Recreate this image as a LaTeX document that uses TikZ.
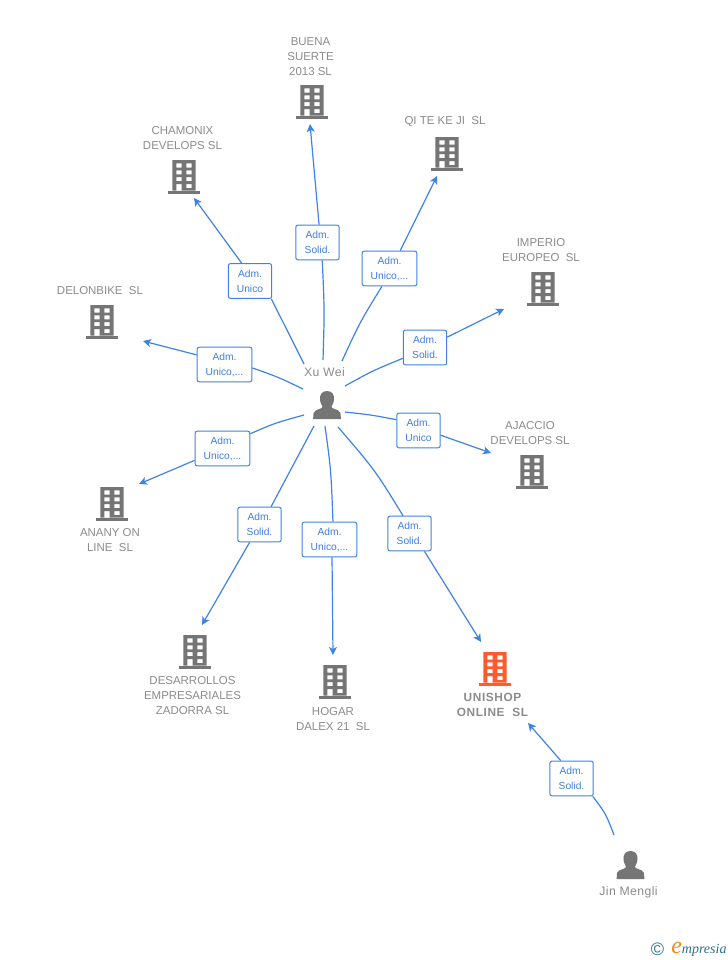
\documentclass[tikz,border=0pt]{standalone}
\usepackage{fontspec}
\setmainfont{Liberation Sans}
\newfontfamily\logofont{Liberation Serif}
\usetikzlibrary{arrows.meta}
\definecolor{edgeblue}{HTML}{3F83E4}
\definecolor{lbltext}{HTML}{3F7FE0}
\definecolor{icongray}{HTML}{757575}
\definecolor{txtgray}{HTML}{8C8C8C}
\definecolor{hilite}{HTML}{FF5A2B}
\definecolor{logoteal}{HTML}{2F6F8F}
\definecolor{logoorange}{HTML}{F08A1D}
\newcommand{\bldg}[3]{%
  \begin{scope}[shift={(#1,#2)}]
    \fill[#3,even odd rule]
      (-11.7,0) rectangle (11.7,30.5)
      (-7.7,3.3) rectangle (-2.3,7.5) (2.3,3.3) rectangle (7.7,7.5)
      (-7.7,10.3) rectangle (-2.3,14.3) (2.3,10.3) rectangle (7.7,14.3)
      (-7.7,17) rectangle (-2.3,21) (2.3,17) rectangle (7.7,21)
      (-7.7,24) rectangle (-2.3,30.5) (2.3,24) rectangle (7.7,28);
    \fill[#3] (-16,30.5) rectangle (16,33.5);
  \end{scope}}
\newcommand{\persona}[2]{%
  \begin{scope}[shift={(#1,#2)}]
    \fill[icongray] (0,0) .. controls (-5.5,0) and (-7.2,4) .. (-7,8)
      .. controls (-6.9,11.5) and (-5.5,14) .. (-4.5,15.5)
      .. controls (-4.5,17.5) and (-8,18) .. (-11,19.3)
      .. controls (-13.5,20.3) and (-13.8,22) .. (-13.8,28)
      -- (13.8,28) .. controls (13.8,22) and (13.5,20.3) .. (11,19.3)
      .. controls (8,18) and (4.5,17.5) .. (4.5,15.5)
      .. controls (5.5,14) and (6.9,11.5) .. (7,8)
      .. controls (7.2,4) and (5.5,0) .. (0,0) -- cycle;
  \end{scope}}
\tikzset{
  x=0.75pt,y=-0.75pt,
  lblbox/.style={draw=edgeblue,fill=white,rounded corners=1.5pt,line width=0.75pt,
    text=lbltext,font=\fontsize{7.7}{11.25}\selectfont,align=center,inner sep=0pt,
    minimum height=26pt},
  narrowbox/.style={lblbox,minimum width=32.5pt},
  widebox/.style={lblbox,minimum width=41pt},
  co/.style={text=txtgray,font=\fontsize{8.6}{11.25}\selectfont,align=center,inner sep=0pt},
  link/.style={draw=edgeblue,line width=0.9pt},
  arrowlink/.style={link,-{Stealth[length=6pt,width=6pt,inset=1.6pt]}},
}
\begin{document}
\begin{tikzpicture}
\useasboundingbox (0,0) rectangle (728,960);
\fill[white] (0,0) rectangle (728,960);
% buildings
\bldg{312}{85}{icongray}
\bldg{184}{160}{icongray}
\bldg{447}{137}{icongray}
\bldg{543}{272}{icongray}
\bldg{102}{305}{icongray}
\bldg{532}{455}{icongray}
\bldg{112}{487}{icongray}
\bldg{195}{635}{icongray}
\bldg{335}{665}{icongray}
\bldg{495}{652}{hilite}
% people
\persona{327}{391}
\persona{630.5}{851}
% names
\node[co] (buena) at (310.5,56.5) {BUENA\\SUERTE\\2013 SL};
\node[co] (chamonix) at (182.5,138) {CHAMONIX\\DEVELOPS SL};
\node[co] (qite) at (445,122) {QI TE KE JI~ SL};
\node[co] (imperio) at (541,250) {IMPERIO\\EUROPEO~ SL};
\node[co] (delonbike) at (100,291) {DELONBIKE~ SL};
\node[co] (ajaccio) at (530,433) {AJACCIO\\DEVELOPS SL};
\node[co] (anany) at (110,540) {ANANY ON\\LINE~ SL};
\node[co] (desarrollos) at (192.5,696) {DESARROLLOS\\EMPRESARIALES\\ZADORRA SL};
\node[co] (hogar) at (333,719) {HOGAR\\DALEX 21~ SL};
\node[co,font=\fontsize{8.9}{11.25}\selectfont\bfseries\addfontfeatures{LetterSpace=5}] (unishop) at (492.5,704.5) {UNISHOP\\ONLINE~ SL};
\node[co,font=\fontsize{9.2}{11.25}\selectfont\addfontfeatures{LetterSpace=3}] (xuwei) at (324.5,372) {Xu Wei};
\node[co,font=\fontsize{9.2}{11.25}\selectfont\addfontfeatures{LetterSpace=3}] (jin) at (628.5,892) {Jin Mengli};
% connector labels
\node[narrowbox] (lbuena) at (317.5,242.5) {Adm.\\Solid.};
\node[narrowbox] (lchamonix) at (250,281) {Adm.\\Unico};
\node[widebox] (lqite) at (389.5,268.5) {Adm.\\Unico,...};
\node[narrowbox] (limperio) at (425,347.5) {Adm.\\Solid.};
\node[widebox] (ldelon) at (224.5,364.5) {Adm.\\Unico,...};
\node[narrowbox] (lajaccio) at (418.5,430.5) {Adm.\\Unico};
\node[widebox] (lanany) at (222.5,448.5) {Adm.\\Unico,...};
\node[narrowbox] (ldesa) at (259.5,524.5) {Adm.\\Solid.};
\node[widebox] (lhogar) at (329.5,539.5) {Adm.\\Unico,...};
\node[narrowbox] (luni) at (409.5,533.5) {Adm.\\Solid.};
\node[narrowbox] (ljin) at (571.5,778.5) {Adm.\\Solid.};
% free ends
\coordinate (sbuena) at (323,360);   \coordinate (ebuena) at (310,124);
\coordinate (schamonix) at (304,364);\coordinate (echamonix) at (194,198);
\coordinate (sqite) at (342,361);    \coordinate (eqite) at (437,176);
\coordinate (simperio) at (345,386); \coordinate (eimperio) at (504,309);
\coordinate (sdelon) at (303,389);   \coordinate (edelon) at (143,341);
\coordinate (sajaccio) at (345,412); \coordinate (eajaccio) at (491,453);
\coordinate (sanany) at (304,415);   \coordinate (eanany) at (139,484);
\coordinate (sdesa) at (314,426);    \coordinate (edesa) at (202,625);
\coordinate (shogar) at (325,426);   \coordinate (ehogar) at (333,655);
\coordinate (suni) at (338,427);     \coordinate (euni) at (481,642);
\coordinate (sjin) at (614,835);     \coordinate (ejin) at (528,723);
% connectors
\draw[link] (sbuena) .. controls (324.5,310) .. (lbuena.-75.6);
\draw[arrowlink] (lbuena.85) -- (ebuena);
\draw[link] (schamonix) .. controls (289,334) .. (lchamonix.-40);
\draw[arrowlink] (lchamonix.115) -- (echamonix);
\draw[link] (sqite) .. controls (360,322) .. (lqite.-113);
\draw[arrowlink] (lqite.59) -- (eqite);
\draw[link] (simperio) .. controls (372,371) .. (limperio.206);
\draw[arrowlink] (limperio.25) -- (eimperio);
\draw[link] (sdelon) .. controls (278,377) .. (ldelon.-7);
\draw[arrowlink] (ldelon.161) -- (edelon);
\draw[link] (sajaccio) .. controls (372,415) .. (lajaccio.154);
\draw[arrowlink] (lajaccio.-12) -- (eajaccio);
\draw[link] (sanany) .. controls (275,423) .. (lanany.28);
\draw[arrowlink] (lanany.203) -- (eanany);
\draw[link] (sdesa) .. controls (293,467) .. (ldesa.57);
\draw[arrowlink] (ldesa.241) -- (edesa);
\draw[link] (shogar) .. controls (331,470) .. (lhogar.79);
\draw[arrowlink] (lhogar.-82) -- (ehogar);
\draw[link] (suni) .. controls (375,470) .. (luni.110);
\draw[arrowlink] (luni.-50) -- (euni);
\draw[link] (sjin) .. controls (606,814) .. (ljin.-40.5);
\draw[arrowlink] (ljin.121) -- (ejin);
% logo
\node[text=logoteal,font=\fontsize{13.5}{13.5}\selectfont,inner sep=0pt] (copyr) at (657.5,949) {©};
\node[anchor=base west,inner sep=0pt,font=\logofont\itshape\fontsize{10.5}{10}\selectfont,text=logoteal] (logo) at (671,953)
  {{\color{logoorange}\fontsize{18}{18}\selectfont e}mpresia};
\end{tikzpicture}
\end{document}
